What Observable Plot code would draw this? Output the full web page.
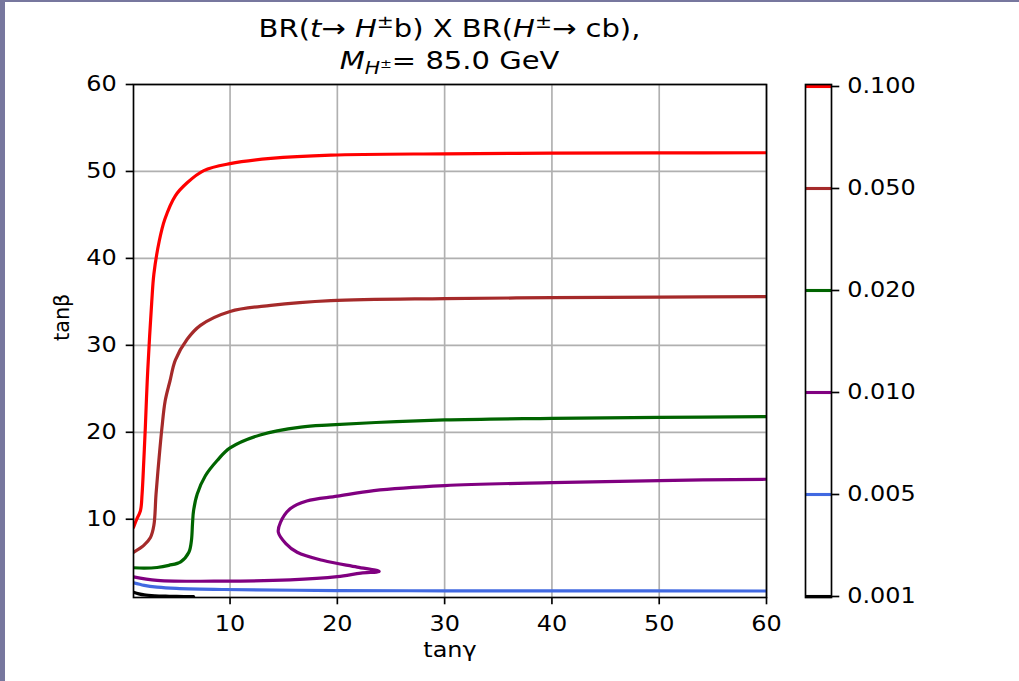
<!DOCTYPE html>
<html>
<head>
<meta charset="utf-8">
<script src="https://cdn.jsdelivr.net/npm/d3@7"></script>
<script src="https://cdn.jsdelivr.net/npm/@observablehq/plot@0.6"></script>
<style>
  html, body { margin: 0; padding: 0; background: #fff; }
  #wrap { position: relative; width: 1019px; height: 681px; overflow: hidden; background: #fff; font-family: "DejaVu Sans", sans-serif; }
  .edgeL { position: absolute; left: 0; top: 0; width: 5px; height: 681px; background: #77779e; }
  .edgeT { position: absolute; left: 0; top: 0; width: 1019px; height: 2px; background: #77779e; }
  .title { position: absolute; left: 0; width: 899px; text-align: center; font-size: 25px; line-height: 31px; color: #000; white-space: nowrap;
           transform: scaleX(1.16); transform-origin: 449.5px 0; }
  .sup { position: relative; top: -0.5em; font-size: 0.7em; line-height: 0; }
  .sub { position: relative; top: 0.3em; font-size: 0.7em; line-height: 0; }
  .sub .sup2 { position: relative; top: -0.5em; font-size: 0.7em; }
  #main, #cbar { position: absolute; top: 0; }
  #main { left: 0; }
  #cbar { left: 780px; }
</style>
</head>
<body>
<div id="wrap">
  <div class="edgeL"></div>
  <div class="edgeT"></div>
  <div class="title" style="top:13px">BR(<i>t</i>→ <i>H</i><span class="sup">±</span>b) X BR(<i>H</i><span class="sup">±</span>→ cb),</div>
  <div class="title" style="top:45px"><i>M</i><span class="sub"><i>H</i><span class="sup2">±</span></span>= 85.0 GeV</div>
  <div id="main"></div>
  <div id="cbar"></div>
</div>
<script>
// Contour levels (colorbar) and colours
const levels = ["0.100", "0.050", "0.020", "0.010", "0.005", "0.001"];
const levelColors = ["red", "brown", "darkgreen", "purple", "royalblue", "black"];

// Axis ticks
const xTicks = [10, 20, 30, 40, 50, 60];
const yTicks = [10, 20, 30, 40, 50, 60];

// Contour BR = 0.100
const redTanGamma = [1, 1.3, 1.65, 1.8, 1.96, 2.1, 2.28, 2.5, 2.7, 2.9, 3.4, 3.92, 4.9, 6.0, 7.55, 10.0, 13.8, 19.4, 30, 40, 50, 60];
const redTanBeta  = [9.05, 10.0, 11.0, 12.9, 16.75, 20.5, 25.9, 31.0, 35.0, 38.2, 42.0, 44.5, 47.2, 48.7, 50.1, 50.9, 51.5, 51.88, 52.03, 52.1, 52.13, 52.15];

// Contour BR = 0.050
const brownTanGamma = [1, 1.96, 2.58, 2.9, 3.1, 3.36, 3.65, 3.95, 4.4, 4.9, 6.0, 7.24, 10.0, 13.8, 19.4, 30, 40, 50, 60];
const brownTanBeta  = [6.2, 7.0, 7.9, 9.3, 12.9, 16.7, 20.5, 23.6, 25.9, 28.3, 30.7, 32.3, 33.9, 34.6, 35.14, 35.37, 35.48, 35.55, 35.6];

// Contour BR = 0.020
const greenTanGamma = [1, 2, 3.2, 4.3, 5.4, 6.16, 6.4, 6.5, 6.6, 6.94, 7.7, 8.8, 10, 12.8, 16.6, 19.4, 30, 40, 50, 60];
const greenTanBeta  = [4.42, 4.37, 4.45, 4.7, 5.1, 6.2, 7.55, 9.5, 11.0, 12.9, 15.0, 16.75, 18.2, 19.7, 20.6, 20.85, 21.42, 21.6, 21.72, 21.8];

// Contour BR = 0.010
const purpleTanGamma = [1, 3.2, 9.4, 15.6, 20, 22.2, 23.9, 21.85, 18.7, 16.25, 15.2, 14.5, 14.7, 15.6, 17.15, 20, 23.4, 30, 40, 50, 60];
const purpleTanBeta  = [3.38, 2.98, 2.88, 3.03, 3.4, 3.8, 4.0, 4.5, 5.25, 6.2, 7.2, 8.5, 9.65, 11.2, 12.1, 12.65, 13.3, 13.87, 14.22, 14.45, 14.6];

// Contour BR = 0.005
const blueTanGamma = [1, 2, 3.2, 5, 9.4, 20, 30, 40, 60];
const blueTanBeta  = [2.7, 2.4, 2.2, 2.05, 1.92, 1.8, 1.77, 1.76, 1.75];

// Contour BR = 0.001
const blackTanGamma = [1, 1.5, 2, 3, 4, 5, 6.6];
const blackTanBeta  = [1.6, 1.42, 1.3, 1.2, 1.15, 1.12, 1.1];

const contours = [
  {gx: redTanGamma, by: redTanBeta, color: levelColors[0]},
  {gx: brownTanGamma, by: brownTanBeta, color: levelColors[1]},
  {gx: greenTanGamma, by: greenTanBeta, color: levelColors[2]},
  {gx: purpleTanGamma, by: purpleTanBeta, color: levelColors[3]},
  {gx: blueTanGamma, by: blueTanBeta, color: levelColors[4]},
  {gx: blackTanGamma, by: blackTanBeta, color: levelColors[5]}
];

const FS = 20.8;
const LW = 1.67;
const STRETCH = 1.15; // the reference's text is horizontally wider than plain DejaVu Sans

function stretchText(svg, k) {
  svg.querySelectorAll("text").forEach(t => {
    const tr = (t.getAttribute("transform") || "") + ((t.parentNode && t.parentNode.getAttribute && t.parentNode.getAttribute("transform")) || "");
    if (tr.includes("rotate")) return;
    const L = t.getComputedTextLength();
    if (L > 0) {
      t.setAttribute("textLength", (L * k).toFixed(2));
      t.setAttribute("lengthAdjust", "spacingAndGlyphs");
    }
  });
}

const main = Plot.plot({
  width: 780, height: 681,
  marginLeft: 133, marginRight: 14, marginTop: 84, marginBottom: 84,
  style: {fontFamily: "DejaVu Sans", fontSize: FS + "px", color: "black", background: "transparent", overflow: "visible"},
  x: {domain: [1, 60]},
  y: {domain: [1, 60]},
  marks: [
    Plot.gridX(xTicks, {stroke: "#b0b0b0", strokeOpacity: 1, strokeWidth: LW}),
    Plot.gridY(yTicks, {stroke: "#b0b0b0", strokeOpacity: 1, strokeWidth: LW}),
    ...contours.map(c => Plot.line(c.gx.map((g, i) => ({g, b: c.by[i]})), {
      x: "g", y: "b", stroke: c.color, strokeWidth: 3.2, curve: "catmull-rom", clip: true
    })),
    Plot.frame({stroke: "black", strokeWidth: LW}),
    Plot.axisX(xTicks, {tickSize: 7.3, tickPadding: 11, strokeWidth: LW, label: null, fontSize: FS}),
    Plot.axisY(yTicks, {tickSize: 7.3, tickPadding: 9.4, strokeWidth: LW, label: null, fontSize: FS}),
    Plot.text(["tanγ"], {text: d => d, frameAnchor: "bottom", dy: 53, lineAnchor: "middle", fontSize: FS}),
    Plot.text(["tanβ"], {text: d => d, frameAnchor: "left", dx: -71, rotate: -90, lineAnchor: "middle", fontSize: FS})
  ]
});
document.getElementById("main").appendChild(main);
stretchText(main, STRETCH);

const cbar = Plot.plot({
  width: 239, height: 681,
  marginLeft: 25, marginRight: 188, marginTop: 84, marginBottom: 84,
  style: {fontFamily: "DejaVu Sans", fontSize: FS + "px", color: "black", background: "transparent", overflow: "visible"},
  x: {domain: [0, 1], axis: null},
  y: {type: "point", domain: levels, padding: 0},
  marks: [
    ...levels.map((lv, i) => Plot.ruleY([lv], {x1: 0, x2: 1, stroke: levelColors[i], strokeWidth: 3.1})),
    Plot.frame({stroke: "black", strokeWidth: LW}),
    Plot.axisY({anchor: "right", tickSize: 7.3, tickPadding: 8.4, strokeWidth: LW, label: null, fontSize: FS})
  ]
});
document.getElementById("cbar").appendChild(cbar);
stretchText(cbar, STRETCH);
</script>
</body>
</html>
